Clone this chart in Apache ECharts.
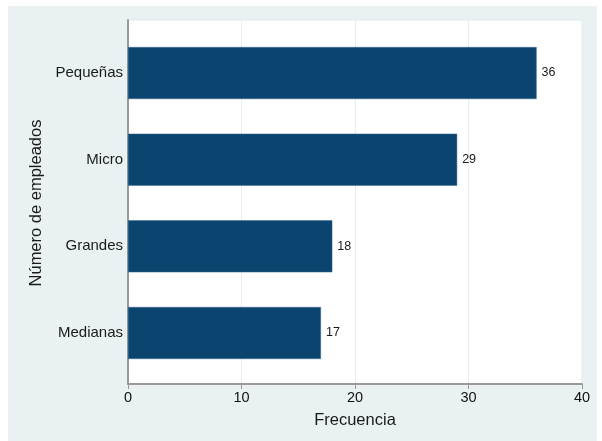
<!DOCTYPE html>
<html lang="es">
<head>
<meta charset="UTF-8">
<title>Frecuencia por número de empleados</title>
<script src="https://cdn.jsdelivr.net/npm/echarts@6/dist/echarts.min.js"></script>
<style>
    html, body { margin: 0; padding: 0; background: #ffffff; }
    #wrap { position: relative; width: 602px; height: 441px; background: #ffffff; }
    #chart { position: absolute; left: 8px; top: 6px; width: 589px; height: 435px; }
</style>
</head>
<body>
<div id="wrap"><div id="chart"></div></div>
<script>
    // datos
    const categorias = ['Pequeñas', 'Micro', 'Grandes', 'Medianas'];
    const frecuencias = [36, 29, 18, 17];
    const xTicks = [0, 10, 20, 30, 40];

    const fuente = '"Liberation Sans", Arial, sans-serif';
    const myChart = echarts.init(document.getElementById('chart'));

    const option = {
        backgroundColor: '#e9f1f3',
        animation: false,
        textStyle: { fontFamily: fuente },
        grid: [
            // marco del plot (fondo blanco, ejes)
            { left: 120, right: 15, top: 14, bottom: 57, show: true,
              backgroundColor: '#ffffff', borderColor: '#dde7ea', borderWidth: 1 },
            // barras
            { left: 120, right: 15, top: 23.7, bottom: 64.7 }
        ],
        xAxis: [
            {
                gridIndex: 0, type: 'value', min: xTicks[0], max: xTicks[xTicks.length - 1], interval: 10,
                name: 'Frecuencia', nameLocation: 'middle', nameGap: 28,
                nameTextStyle: { fontSize: 16.5, color: '#1a1a1a' },
                axisLine: { show: true, lineStyle: { color: '#999999', width: 2 } },
                axisTick: { show: true, length: 5, lineStyle: { color: '#999999' } },
                axisLabel: { fontSize: 14.5, color: '#111', margin: 6 },
                splitLine: { show: true, lineStyle: { color: '#e6eef1', width: 1 } }
            },
            {
                gridIndex: 1, type: 'value', min: 0, max: 40, show: false
            }
        ],
        yAxis: [
            {
                gridIndex: 0, type: 'value', min: 0, max: 1,
                axisLine: { show: true, lineStyle: { color: '#999999', width: 2 } },
                axisTick: { show: false }, axisLabel: { show: false }, splitLine: { show: false }
            },
            {
                gridIndex: 1, type: 'category', data: categorias, inverse: true,
                name: 'Número de empleados', nameLocation: 'middle', nameGap: 83,
                nameTextStyle: { fontSize: 16.5, color: '#1a1a1a' },
                axisLine: { show: false }, axisTick: { show: false },
                axisLabel: { fontSize: 15, color: '#1a1a1a', margin: 5 }
            }
        ],
        series: [{
            type: 'bar',
            xAxisIndex: 1,
            yAxisIndex: 1,
            data: frecuencias,
            barWidth: 52,
            itemStyle: { color: '#0b456f', borderColor: '#3a6a90', borderWidth: 0.5 },
            label: { show: true, position: 'right', distance: 5, fontSize: 12.5, color: '#1a1a1a' }
        }]
    };

    myChart.setOption(option);
</script>
</body>
</html>
